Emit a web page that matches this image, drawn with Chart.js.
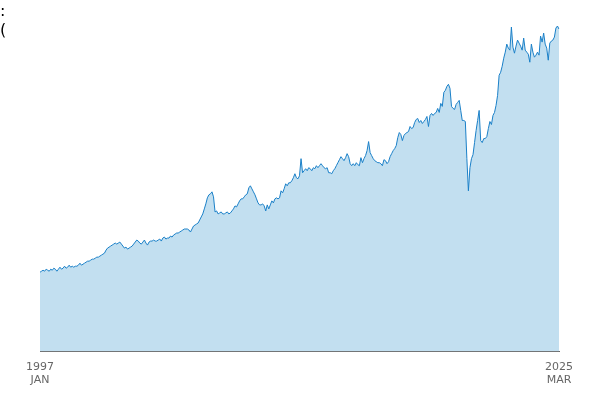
<!DOCTYPE html>
<html>
<head>
<meta charset="utf-8">
<script src="https://cdn.jsdelivr.net/npm/chart.js@4"></script>
<style>
  html, body { margin: 0; padding: 0; background: #fff; }
  #wrap { position: relative; width: 600px; height: 400px; }
  #heading { position: absolute; left: 0; top: 1px; font: 16px "DejaVu Sans", sans-serif; line-height: 19px; color: #000; }
</style>
</head>
<body>
<div id="wrap">
  <div id="heading">:<br>(</div>
  <canvas id="areaChart" width="600" height="400"></canvas>
</div>
<script>
// one label per month, Jan 1997 .. Mar 2025
const years = [];
for (let y = 1997; y <= 2025; y++) years.push(y);
const monthNames = ['JAN', 'FEB', 'MAR', 'APR', 'MAY', 'JUN', 'JUL', 'AUG', 'SEP', 'OCT', 'NOV', 'DEC'];

// values, one row per year
const v1997 = [79, 80, 81, 80, 82, 81, 80, 82, 81, 83, 82, 80];
const v1998 = [82, 84, 82, 83, 85, 83, 84, 86, 84, 85, 84, 85];
const v1999 = [85, 86, 88, 86, 87, 88, 89, 90, 90, 91, 92, 92];
const v2000 = [93, 94, 94, 95, 96, 97, 98, 101, 103, 104, 105, 106];
const v2001 = [107, 108, 107, 108, 109, 107, 105, 103, 104, 102, 103, 104];
const v2002 = [105, 107, 109, 111, 110, 108, 107, 109, 111, 108, 106, 109];
const v2003 = [110, 110, 111, 110, 110, 111, 112, 110, 113, 114, 112, 113];
const v2004 = [113, 115, 114, 116, 117, 118, 118, 119, 120, 121, 122, 122];
const v2005 = [122, 121, 119, 122, 125, 126, 127, 128, 131, 134, 137, 142];
const v2006 = [147, 153, 156, 157, 159, 154, 139, 140, 137, 138, 139, 137];
const v2007 = [137, 138, 139, 137, 138, 140, 142, 145, 144, 147, 150, 152];
const v2008 = [152, 154, 156, 157, 163, 165, 162, 159, 156, 152, 148, 146];
const v2009 = [146, 147, 145, 140, 146, 142, 146, 150, 148, 152, 153, 152];
const v2010 = [153, 160, 158, 162, 167, 165, 168, 168, 170, 173, 177, 173];
const v2011 = [172, 175, 192, 178, 180, 182, 180, 183, 182, 180, 183, 182];
const v2012 = [185, 183, 185, 187, 185, 183, 182, 183, 178, 178, 177, 180];
const v2013 = [182, 185, 188, 191, 194, 192, 190, 193, 197, 194, 187, 185];
const v2014 = [187, 185, 188, 186, 185, 193, 188, 192, 195, 200, 209, 198];
const v2015 = [195, 192, 190, 189, 188, 188, 187, 185, 191, 190, 187, 189];
const v2016 = [194, 197, 200, 202, 205, 213, 218, 216, 210, 215, 217, 218];
const v2017 = [219, 224, 222, 223, 228, 231, 232, 228, 230, 227, 229, 231];
const v2018 = [234, 224, 235, 237, 235, 237, 238, 242, 238, 247, 244, 258];
const v2019 = [260, 264, 266, 262, 244, 242, 241, 246, 248, 250, 240, 230];
const v2020 = [230, 229, 192, 160, 183, 192, 196, 208, 220, 230, 240, 210];
const v2021 = [208, 212, 212, 214, 222, 229, 226, 235, 238, 245, 255, 275];
const v2022 = [278, 284, 292, 298, 306, 302, 300, 323, 303, 297, 304, 310];
const v2023 = [307, 304, 300, 312, 300, 298, 296, 288, 306, 298, 293, 295];
const v2024 = [298, 295, 314, 308, 317, 306, 302, 290, 307, 309, 310, 313];
const v2025 = [322, 324, 321];

const values = [].concat(v1997, v1998, v1999, v2000, v2001, v2002, v2003, v2004, v2005,
    v2006, v2007, v2008, v2009, v2010, v2011, v2012, v2013, v2014, v2015, v2016,
    v2017, v2018, v2019, v2020, v2021, v2022, v2023, v2024, v2025);

const labels = [];
years.forEach(y => {
    monthNames.forEach(m => labels.push([String(y), m]));
});
labels.length = values.length;

const canvas = document.getElementById('areaChart');

new Chart(canvas, {
    type: 'line',
    data: {
        labels: labels,
        datasets: [{
            data: values,
            borderColor: '#1b80c8',
            backgroundColor: '#c2dff0',
            borderWidth: 1,
            fill: 'origin',
            pointRadius: 0,
            tension: 0
        }]
    },
    options: {
        responsive: false,
        animation: false,
        layout: { padding: { left: 40, right: 41, top: 20, bottom: 4 } },
        plugins: { legend: { display: false }, tooltip: { enabled: false } },
        scales: {
            x: {
                grid: { display: false, drawTicks: false },
                border: { color: '#666', width: 1 },
                ticks: {
                    autoSkip: false,
                    maxRotation: 0,
                    padding: 9,
                    color: '#666',
                    font: { family: 'DejaVu Sans', size: 11 },
                    callback: function (val, i) {
                        return (i === 0 || i === labels.length - 1) ? labels[i] : '';
                    }
                }
            },
            y: {
                display: false,
                min: 0,
                max: 330
            }
        }
    }
});
</script>
</body>
</html>
